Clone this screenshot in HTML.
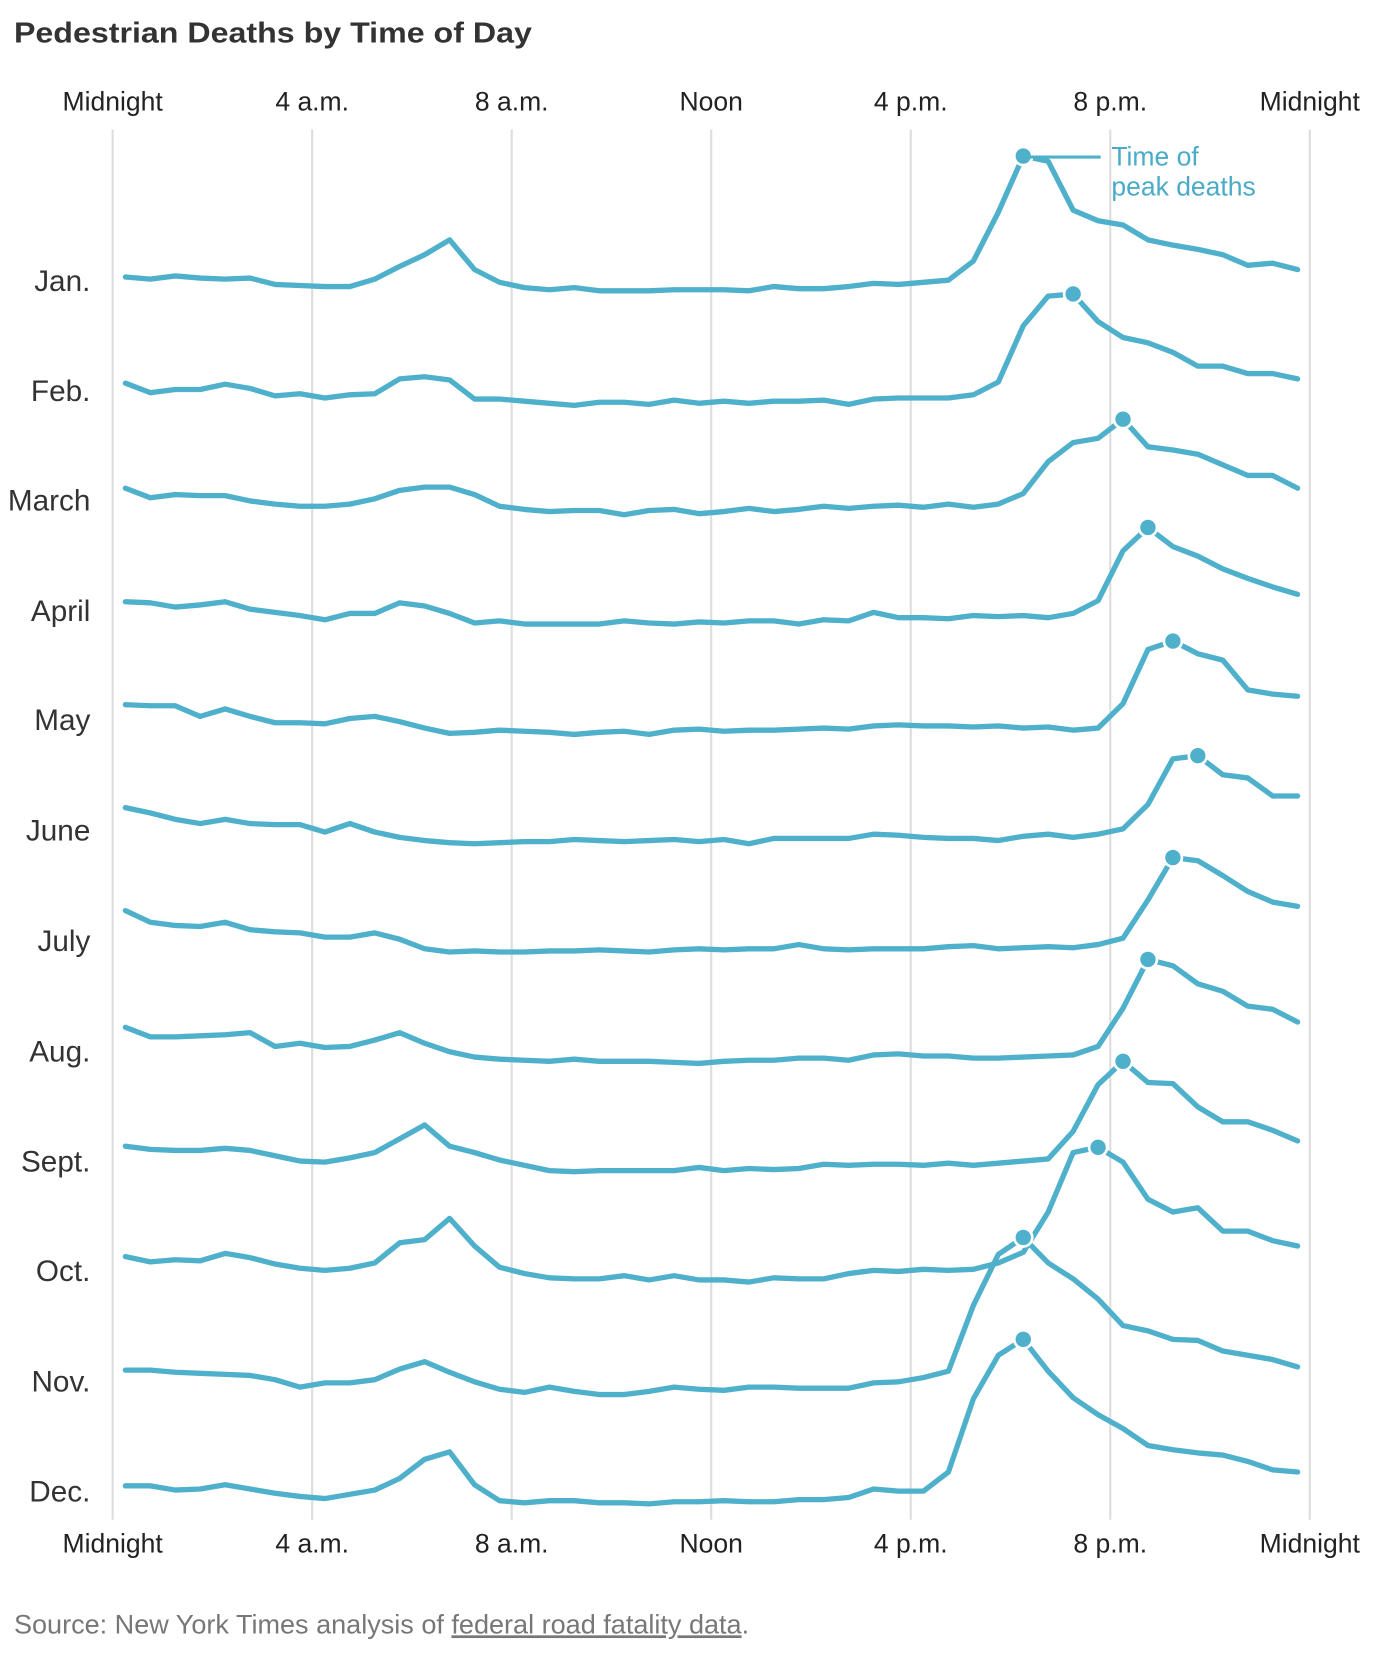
<!DOCTYPE html>
<html><head><meta charset="utf-8"><style>
html,body{margin:0;padding:0;background:#fff}
svg{display:block}
</style></head><body>
<svg id="c" width="1380" height="1662" viewBox="0 0 1300 1566" xmlns="http://www.w3.org/2000/svg" font-family="Liberation Sans, sans-serif">
<text x="13" y="40" font-size="27" font-weight="bold" fill="#333" textLength="488" lengthAdjust="spacingAndGlyphs">Pedestrian Deaths by Time of Day</text>
<g stroke="#ddd" stroke-width="2">
<line x1="106" y1="122" x2="106" y2="1432"/><line x1="294" y1="122" x2="294" y2="1432"/><line x1="482" y1="122" x2="482" y2="1432"/><line x1="670" y1="122" x2="670" y2="1432"/><line x1="858" y1="122" x2="858" y2="1432"/><line x1="1046" y1="122" x2="1046" y2="1432"/><line x1="1234" y1="122" x2="1234" y2="1432"/>
</g>
<g font-size="25" fill="#222" text-anchor="middle">
<text x="106" y="104">Midnight</text><text x="294" y="104">4 a.m.</text><text x="482" y="104">8 a.m.</text><text x="670" y="104">Noon</text><text x="858" y="104">4 p.m.</text><text x="1046" y="104">8 p.m.</text><text x="1234" y="104">Midnight</text>
<text x="106" y="1463">Midnight</text><text x="294" y="1463">4 a.m.</text><text x="482" y="1463">8 a.m.</text><text x="670" y="1463">Noon</text><text x="858" y="1463">4 p.m.</text><text x="1046" y="1463">8 p.m.</text><text x="1234" y="1463">Midnight</text>
</g>
<g font-size="28" fill="#333" text-anchor="end">
<text x="85" y="274">Jan.</text><text x="85" y="378">Feb.</text><text x="85" y="481">March</text><text x="85" y="585">April</text><text x="85" y="688">May</text><text x="85" y="792">June</text><text x="85" y="896">July</text><text x="85" y="1000">Aug.</text><text x="85" y="1104">Sept.</text><text x="85" y="1207">Oct.</text><text x="85" y="1311">Nov.</text><text x="85" y="1415">Dec.</text>
</g>
<g id="series"></g>
<line x1="964" y1="148" x2="1037" y2="148" stroke="#4fb0cb" stroke-width="3"/>
<g font-size="25" fill="#4aabc9"><text x="1047" y="156">Time of</text><text x="1047" y="184">peak deaths</text></g>
<text x="13" y="1539" font-size="25.5" fill="#777">Source: New York Times analysis of <tspan text-decoration="underline">federal road fatality data</tspan>.</text>
</svg>
<script>
var D=[
[261,263,260,262,263,262,268,269,270,270,263,251,240,226,254,266,271,273,271,274,274,274,273,273,273,274,270,272,272,270,267,268,266,264,246,200,147,152,198,208,212,226,231,235,240,250,248,254],
[361,370,367,367,362,366,373,371,375,372,371,357,355,358,376,376,378,380,382,379,379,381,377,380,378,380,378,378,377,381,376,375,375,375,372,360,307,279,277,303,318,323,332,345,345,352,352,357],
[460,469,466,467,467,472,475,477,477,475,470,462,459,459,466,477,480,482,481,481,485,481,480,484,482,479,482,480,477,479,477,476,478,475,478,475,465,435,417,413,395,421,424,428,438,448,448,460],
[567,568,572,570,567,574,577,580,584,578,578,568,571,578,587,585,588,588,588,588,585,587,588,586,587,585,585,588,584,585,577,582,582,583,580,581,580,582,578,566,519,497,515,524,536,545,553,560],
[664,665,665,675,668,675,681,681,682,677,675,680,686,691,690,688,689,690,692,690,689,692,688,687,689,688,688,687,686,687,684,683,684,684,685,684,686,685,688,686,663,612,604,616,622,650,654,656],
[761,766,772,776,772,776,777,777,784,776,784,789,792,794,795,794,793,793,791,792,793,792,791,793,791,795,790,790,790,790,786,787,789,790,790,792,788,786,789,786,781,758,715,712,730,733,750,750],
[858,869,872,873,869,876,878,879,883,883,879,885,894,897,896,897,897,896,896,895,896,897,895,894,895,894,894,890,894,895,894,894,894,892,891,894,893,892,893,890,884,848,808,811,825,840,850,854],
[968,977,977,976,975,973,986,983,987,986,980,973,983,991,996,998,999,1000,998,1000,1000,1000,1001,1002,1000,999,999,997,997,999,994,993,995,995,997,997,996,995,994,986,950,904,910,927,934,948,951,963],
[1080,1083,1084,1084,1082,1084,1089,1094,1095,1091,1086,1073,1060,1080,1086,1093,1098,1103,1104,1103,1103,1103,1103,1100,1103,1101,1102,1101,1097,1098,1097,1097,1098,1096,1098,1096,1094,1092,1066,1022,1000,1020,1021,1043,1057,1057,1065,1075],
[1184,1189,1187,1188,1181,1185,1191,1195,1197,1195,1190,1171,1168,1148,1174,1194,1200,1204,1205,1205,1202,1206,1202,1206,1206,1208,1204,1205,1205,1200,1197,1198,1196,1197,1196,1190,1180,1142,1086,1081,1095,1130,1142,1138,1160,1160,1169,1174],
[1291,1291,1293,1294,1295,1296,1300,1307,1303,1303,1300,1290,1283,1293,1302,1309,1312,1307,1311,1314,1314,1311,1307,1309,1310,1307,1307,1308,1308,1308,1303,1302,1298,1292,1230,1182,1166,1190,1205,1224,1249,1254,1262,1263,1273,1277,1281,1288],
[1400,1400,1404,1403,1399,1403,1407,1410,1412,1408,1404,1393,1375,1368,1399,1414,1416,1414,1414,1416,1416,1417,1415,1415,1414,1415,1415,1413,1413,1411,1403,1405,1405,1387,1318,1277,1262,1292,1317,1333,1346,1362,1366,1369,1371,1377,1385,1387]];
var g=document.getElementById('series'),h='';
D.forEach(function(a){
 var d='',mi=0;
 a.forEach(function(y,i){var x=118+23.5*i;d+=(i?'L':'M')+x.toFixed(1)+' '+y; if(y<a[mi])mi=i;});
 h+='<path d="'+d+'" fill="none" stroke="#4fb0cb" stroke-width="5" stroke-linejoin="round" stroke-linecap="round"/>';
 h+='<circle cx="'+(118+23.5*mi)+'" cy="'+a[mi]+'" r="8.5" fill="#4fb0cb" stroke="#fff" stroke-width="2.5"/>';
});
g.innerHTML=h;
</script>
</body></html>
